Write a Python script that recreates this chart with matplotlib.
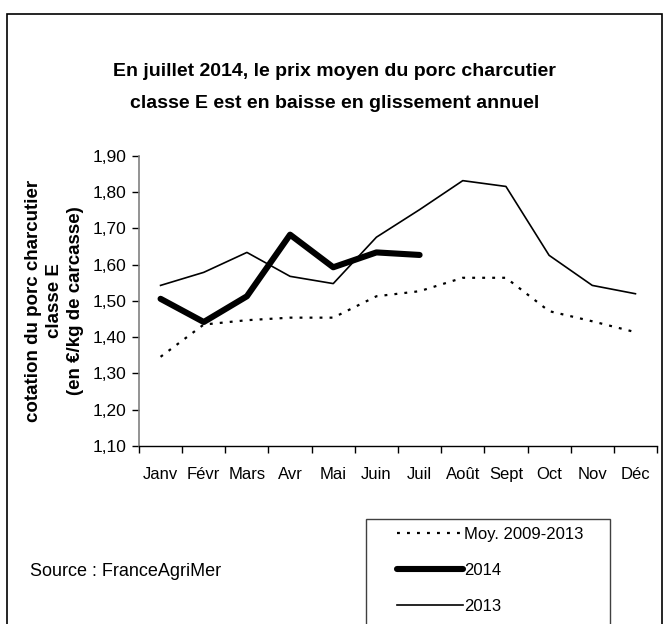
import matplotlib
matplotlib.use("Agg")
import matplotlib.pyplot as plt
from matplotlib.patches import Rectangle
from matplotlib.ticker import FixedLocator, FuncFormatter

# Data
months = ['Janv', 'Févr', 'Mars', 'Avr', 'Mai', 'Juin', 'Juil',
          'Août', 'Sept', 'Oct', 'Nov', 'Déc']
moy_2009_2013 = [1.346, 1.435, 1.447, 1.454, 1.454, 1.513, 1.527,
                 1.564, 1.564, 1.472, 1.444, 1.414]
prix_2014 = [1.506, 1.442, 1.513, 1.683, 1.593, 1.634, 1.627]
prix_2013 = [1.543, 1.579, 1.634, 1.568, 1.548, 1.676, 1.752,
             1.832, 1.816, 1.626, 1.543, 1.520]
yticks = [1.10, 1.20, 1.30, 1.40, 1.50, 1.60, 1.70, 1.80, 1.90]

plt.rcParams['font.family'] = ['Liberation Sans', 'DejaVu Sans']

fig = plt.figure(figsize=(6.65, 6.24), dpi=100)
ax = fig.add_axes([0.209, 0.2853, 0.779, 0.4647])

x = list(range(len(months)))
l_moy, = ax.plot(x, moy_2009_2013, color='black', lw=1.6,
                 linestyle=(0, (1.3, 3.2)), label='Moy. 2009-2013')
l_2014, = ax.plot(x[:len(prix_2014)], prix_2014, color='black', lw=4.4,
                  solid_capstyle='round', label='2014')
l_2013, = ax.plot(x, prix_2013, color='black', lw=1.2, label='2013')

ax.set_xlim(-0.5, len(months) - 0.5)
ax.set_ylim(1.10, 1.90)
ax.set_yticks(yticks)
ax.yaxis.set_major_formatter(FuncFormatter(lambda v, p: f"{v:.2f}".replace('.', ',')))
ax.set_xticks(x)
ax.set_xticklabels(months)
ax.xaxis.set_minor_locator(FixedLocator([i - 0.5 for i in range(len(months) + 1)]))
ax.tick_params(axis='x', which='major', length=0, pad=15, labelsize=12)
ax.tick_params(axis='x', which='minor', length=5, width=1, direction='out')
ax.tick_params(axis='y', length=5, width=1, direction='out', pad=4, labelsize=12.5)

for s in ['top', 'right']:
    ax.spines[s].set_visible(False)
ax.spines['left'].set_color('#808080')
ax.spines['left'].set_linewidth(1.2)
ax.spines['bottom'].set_color('black')
ax.spines['bottom'].set_linewidth(1)

ax.set_ylabel("cotation du porc charcutier\nclasse E\n(en €/kg de carcasse)",
              fontsize=13.5, fontweight='bold', linespacing=1.3, labelpad=6)

# title, two lines
fig.text(0.503, 1 - 72 / 624, "En juillet 2014, le prix moyen du porc charcutier",
         ha='center', va='center', fontsize=14, fontweight='bold')
fig.text(0.503, 1 - 103 / 624, "classe E est en baisse en glissement annuel",
         ha='center', va='center', fontsize=14, fontweight='bold')

fig.text(0.045, 1 - 572 / 624, "Source : FranceAgriMer", fontsize=13, va='center', ha='left')

# outer frame and legend frame
fig.patches.append(Rectangle((0.0105, -0.05), 0.985, 0.0276 + 1.0, transform=fig.transFigure,
                             fill=False, edgecolor='black', lw=1.2))
fig.patches.append(Rectangle((0.551, -0.05), 0.367, 0.168 + 0.05, transform=fig.transFigure,
                             fill=False, edgecolor='#404040', lw=1))

fig.legend(handles=[l_moy, l_2014, l_2013], loc='upper left',
           bbox_to_anchor=(0.597, 1 - 527 / 624), frameon=False, fontsize=12,
           handlelength=3.95, handletextpad=0.05, labelspacing=1.25,
           borderaxespad=0, borderpad=0)

fig.savefig('out.png', dpi=100)
